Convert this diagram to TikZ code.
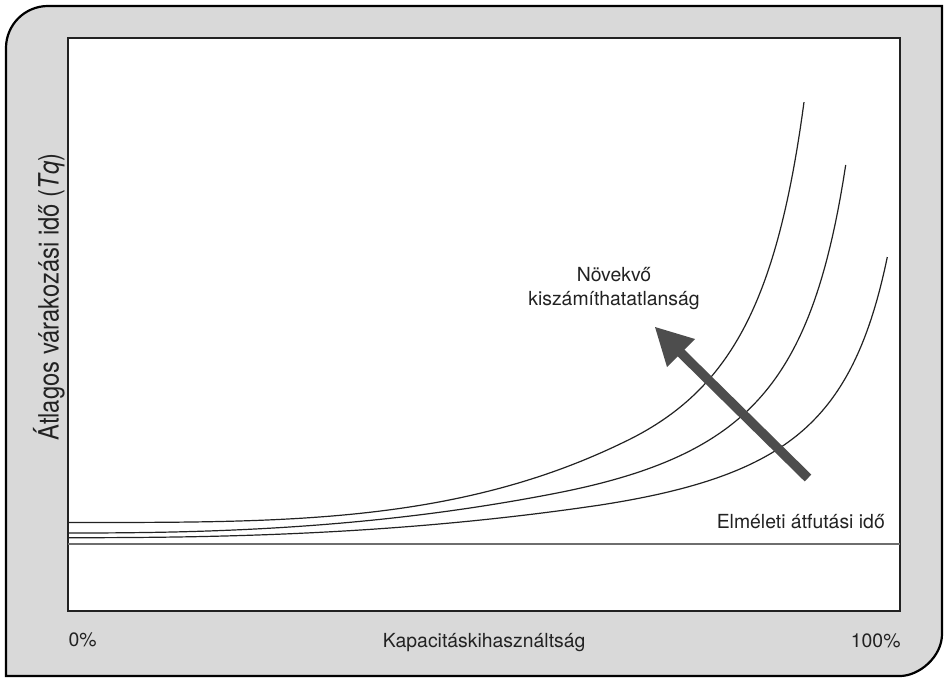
\documentclass[tikz,border=0pt]{standalone}
\usepackage{fontspec}
\setmainfont{TeX Gyre Heros}
\definecolor{panel}{RGB}{217,217,217}
\definecolor{ink}{RGB}{34,34,34}
\definecolor{arrowgray}{RGB}{77,77,77}
\definecolor{refline}{RGB}{110,110,110}
\begin{document}
\begin{tikzpicture}[x=1pt,y=-1pt,
  lbl/.style={inner sep=0pt, text=ink, font=\fontsize{19.4}{23.3}\selectfont},
  axislbl/.style={inner sep=0pt, text=ink, font=\fontsize{28}{30}\selectfont},
  curve/.style={line width=1.2pt, draw=ink, line join=round},
  frame/.style={line width=2.2pt, draw=black, fill=panel},
  plotarea/.style={line width=1.4pt, draw=ink, fill=white},
  shaft/.style={line width=9.5pt, draw=arrowgray},
  head/.style={fill=arrowgray}
]
\useasboundingbox (0,0) rectangle (946,680);

% outer panel: rounded top-left and bottom-right corners
\draw[frame] (6,676) -- (6,48) .. controls (6,24.8) and (24.8,6) .. (48,6)
  -- (942,6) -- (942,634) .. controls (942,657.2) and (918.8,676) .. (900,676) -- cycle;

% plotting area
\draw[plotarea] (68,38) rectangle (900,611);

% theoretical lead time
\coordinate (refL) at (68,544);
\coordinate (refR) at (900,544);
\draw[line width=1.1pt, draw=refline] (refL) -- (refR);

% waiting-time curves
\draw[curve] (68,522.5)
  -- plot[domain=70:620, samples=60] (\x, {522.5 - 78.5*((\x-68)/552)^3.378})
  -- plot[domain=620:804, samples=100] (\x, {522.5 - 277.7*(100/(865-\x) - 100/797)});
\draw[curve] (68,533)
  -- plot[domain=70:560, samples=50] (\x, {533 - 40.57*((\x-68)/492)^2.396})
  -- plot[domain=560:845.7, samples=110] (\x, {533 - 239.11*(100/(906-\x) - 100/838)});
\draw[curve] (68,537.7)
  -- plot[domain=70:600, samples=50] (\x, {537.7 - 32.64*((\x-68)/532)^2.414})
  -- plot[domain=600:887.3, samples=110] (\x, {537.7 - 189.4*(100/(950-\x) - 100/882)});

% trend arrow
\coordinate (tail) at (808,478);
\coordinate (base) at (679,351);
\coordinate (tip) at (655,327);
\coordinate (wingA) at (695,339);
\coordinate (wingB) at (667,367);
\draw[shaft] (tail) -- (base);
\fill[head] (tip) -- (wingA) -- (wingB) -- cycle;

% labels
\node[lbl, anchor=base] (growA) at (614,281.7) {Növekvő};
\node[lbl, anchor=base] (growB) at (614,305) {kiszámíthatatlanság};
\node[lbl, anchor=base east] (theory) at (885,528) {Elméleti átfutási idő};
\node[lbl, anchor=base west] (zero) at (68.3,646.7) {0\%};
\node[lbl, anchor=base west] (xlabel) at (382.7,647) {Kapacitáskihasználtság};
\node[lbl, anchor=base east] (hundred) at (900.7,647) {100\%};
\node[axislbl, rotate=90, anchor=base] (ylabel) at (58.5,297)
  {\scalebox{0.85}[1]{Átlagos várakozási idő (\textit{Tq})}};
\end{tikzpicture}
\end{document}
